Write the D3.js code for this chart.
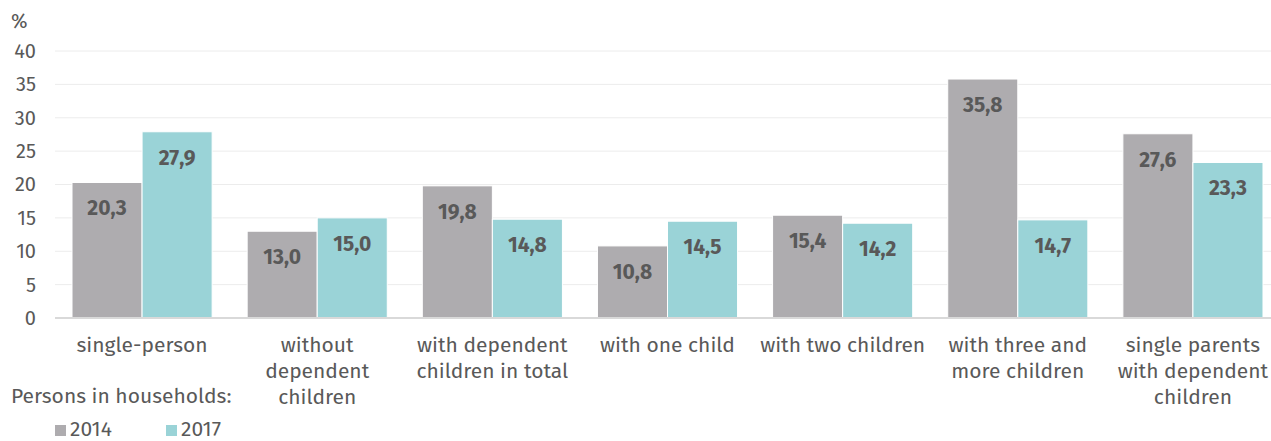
<!DOCTYPE html>
<html><head><meta charset="utf-8">
<script src="https://cdn.jsdelivr.net/npm/d3@7"></script>
<style>body{margin:0;background:#fff}svg{display:block}text{font-family:"Fira Sans","Noto Sans","Open Sans",sans-serif}</style>
</head><body><svg id="c" width="1271" height="441"></svg>
<script>
const categories = [["single-person"],["without","dependent","children"],["with dependent","children in total"],["with one child"],["with two children"],["with three and","more children"],["single parents","with dependent","children"]];
const series = ["2014","2017"];
const values2014 = [20.3,13.0,19.8,10.8,15.4,35.8,27.6];
const values2017 = [27.9,15.0,14.8,14.5,14.2,14.7,23.3];
const yTicks = [0,5,10,15,20,25,30,35,40];
const colors = ["#aeacaf","#9ad3d7"];

const svg = d3.select("#c");
const y = d3.scaleLinear().domain([0,40]).range([318,51]);
const x = d3.scaleBand().domain(d3.range(categories.length)).range([54.5,1280.5]).paddingInner(0.2).paddingOuter(0.1);
const xs = d3.scaleBand().domain(series).range([0,x.bandwidth()]);
const txt = "#595959";

// grid
svg.append("g").selectAll("line").data(yTicks.filter(d=>d>0)).join("line")
  .attr("x1",55).attr("x2",1271).attr("y1",d=>y(d)).attr("y2",d=>y(d))
  .attr("stroke","#ececec").attr("stroke-width",1);

// y axis labels
const ya = svg.append("g").attr("transform","translate(36,0)").call(d3.axisLeft(y).tickValues(yTicks).tickSize(0).tickPadding(0));
ya.select(".domain").remove();
ya.selectAll("text").attr("font-size",20).attr("fill",txt).attr("font-family",null).attr("text-anchor","end");
svg.append("text").attr("x",11).attr("y",28).attr("font-size",20).attr("fill",txt).text("%");

// bars
const data = categories.map((c,i)=>({i, vals:[values2014[i],values2017[i]]}));
const g = svg.append("g");
data.forEach(d=>{
  d.vals.forEach((v,k)=>{
    const x0 = x(d.i)+xs(series[k]);
    g.append("rect").attr("x",x0).attr("y",y(v)).attr("width",xs.bandwidth()).attr("height",y(0)-y(v))
      .attr("fill",colors[k]).attr("stroke","#fff").attr("stroke-width",1);
    g.append("text").attr("x",x0+xs.bandwidth()/2).attr("y",y(v)+33).attr("text-anchor","middle")
      .attr("font-size",21).attr("font-weight","bold").attr("fill",txt).text(v.toFixed(1).replace(".",","));
  });
});

// baseline
svg.append("line").attr("x1",55).attr("x2",1271).attr("y1",y(0)).attr("y2",y(0)).attr("stroke","#d9d9d9").attr("stroke-width",2);

// category labels
categories.forEach((c,i)=>{
  const t = svg.append("text").attr("text-anchor","middle").attr("font-size",21).attr("fill",txt);
  c.forEach((line,j)=>t.append("tspan").attr("x",x(i)+x.bandwidth()/2).attr("y",352+j*26).text(line));
});

svg.append("text").attr("x",11).attr("y",403).attr("font-size",21).attr("fill",txt).text("Persons in households:");

// legend
const leg = svg.append("g");
[[55,"2014"],[166,"2017"]].forEach(([lx,s],k)=>{
  leg.append("rect").attr("x",lx).attr("y",425).attr("width",11).attr("height",11).attr("fill",colors[k]);
  leg.append("text").attr("x",lx+15).attr("y",436).attr("font-size",21).attr("fill",txt).text(s);
});
</script></body></html>
